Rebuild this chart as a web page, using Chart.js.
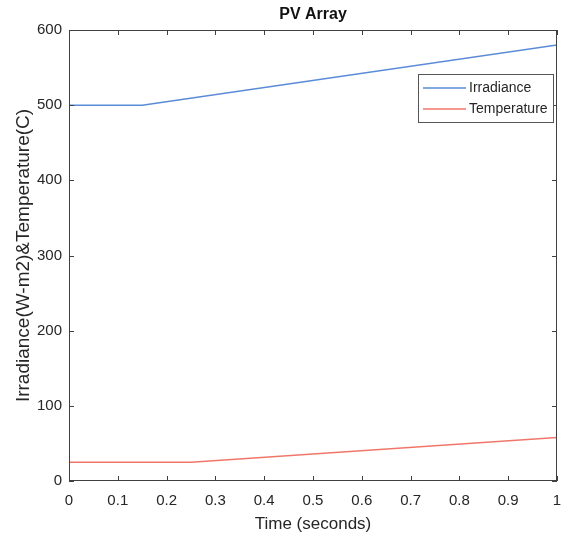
<!DOCTYPE html>
<html>
<head>
<meta charset="utf-8">
<script src="https://cdn.jsdelivr.net/npm/chart.js@4"></script>
<style>
  html, body { margin: 0; padding: 0; background: #fff; }
  #wrap { width: 563px; height: 538px; }
</style>
</head>
<body>
<div id="wrap"><canvas id="myChart" width="563" height="538"></canvas></div>
<script>
// data
const chartTitle = "PV Array";
const seriesNames = ["Irradiance", "Temperature"];
const irrTime = [0, 0.15, 1];
const irrValues = [500, 500, 580];
const tempTime = [0, 0.25, 1];
const tempValues = [25, 25, 58];
const xTicks = [0, 0.1, 0.2, 0.3, 0.4, 0.5, 0.6, 0.7, 0.8, 0.9, 1];
const yTicks = [0, 100, 200, 300, 400, 500, 600];

const colors = ["#5b8bd8", "#f0766a"];
const axisColor = "#404040";
const textColor = "#262626";
const font = "'Liberation Sans', Arial, sans-serif";

function toPoints(xs, ys) {
    return xs.map((x, i) => ({ x: x, y: ys[i] }));
}

// box around the plot, inward ticks on all four sides, legend and title
const boxPlugin = {
    id: "box",
    afterDraw(chart) {
        const ctx = chart.ctx;
        const a = chart.chartArea;
        const xs = chart.scales.x, ys = chart.scales.y;
        ctx.save();
        ctx.strokeStyle = axisColor;
        ctx.lineWidth = 1;
        ctx.strokeRect(a.left + 0.5, a.top + 0.5, a.right - a.left - 1, a.bottom - a.top - 1);
        const len = 5;
        ctx.beginPath();
        xTicks.forEach(v => {
            const px = Math.round(xs.getPixelForValue(v)) + 0.5;
            ctx.moveTo(px, a.bottom); ctx.lineTo(px, a.bottom - len);
            ctx.moveTo(px, a.top); ctx.lineTo(px, a.top + len);
        });
        yTicks.forEach(v => {
            const py = Math.round(ys.getPixelForValue(v)) + 0.5;
            ctx.moveTo(a.left, py); ctx.lineTo(a.left + len, py);
            ctx.moveTo(a.right, py); ctx.lineTo(a.right - len, py);
        });
        ctx.stroke();

        // title centred over the plot area
        ctx.fillStyle = "#111";
        ctx.font = "bold 16px " + font;
        ctx.textAlign = "center";
        ctx.textBaseline = "middle";
        ctx.fillText(chartTitle, (a.left + a.right) / 2, 15);

        // legend box inside the plot, upper right
        const lx = 418, ly = 74, lw = 135, lh = 48;
        ctx.fillStyle = "#fff";
        ctx.fillRect(lx, ly, lw, lh);
        ctx.strokeStyle = "#555";
        ctx.strokeRect(lx + 0.5, ly + 0.5, lw, lh);
        ctx.font = "14px " + font;
        ctx.textAlign = "left";
        chart.data.datasets.forEach((ds, i) => {
            const y = ly + 14 + i * 21;
            ctx.strokeStyle = ds.borderColor;
            ctx.lineWidth = 1.5;
            ctx.beginPath();
            ctx.moveTo(lx + 5, y); ctx.lineTo(lx + 48, y);
            ctx.stroke();
            ctx.fillStyle = textColor;
            ctx.fillText(ds.label, lx + 51, y);
        });
        ctx.restore();
    }
};

const config = {
    type: "line",
    data: {
        datasets: [
            {
                label: seriesNames[0],
                data: toPoints(irrTime, irrValues),
                borderColor: colors[0],
                borderWidth: 1.5,
                pointRadius: 0,
                tension: 0,
            },
            {
                label: seriesNames[1],
                data: toPoints(tempTime, tempValues),
                borderColor: colors[1],
                borderWidth: 1.5,
                pointRadius: 0,
                tension: 0,
            }
        ]
    },
    options: {
        responsive: false,
        animation: false,
        layout: { padding: { left: 0, right: 6, top: 30, bottom: 0 } },
        scales: {
            x: {
                type: "linear",
                min: 0,
                max: 1,
                afterBuildTicks: s => { s.ticks = xTicks.map(v => ({ value: v })); },
                afterFit: s => { s.height = 57; s.paddingRight = 0; s.paddingLeft = 0; },
                grid: { display: false, drawTicks: false },
                border: { display: false },
                ticks: {
                    padding: 11,
                    color: textColor,
                    font: { family: font, size: 15 },
                    callback: v => String(v),
                },
                title: {
                    display: true,
                    text: "Time (seconds)",
                    color: textColor,
                    font: { family: font, size: 17 },
                    padding: { top: 2, bottom: 3 },
                },
            },
            y: {
                min: 0,
                max: 600,
                afterBuildTicks: s => { s.ticks = yTicks.map(v => ({ value: v })); },
                afterFit: s => { s.width = 69; s.paddingTop = 0; s.paddingBottom = 0; },
                grid: { display: false, drawTicks: false },
                border: { display: false },
                ticks: {
                    padding: 7,
                    color: textColor,
                    font: { family: font, size: 15 },
                },
                title: {
                    display: true,
                    text: "Irradiance(W-m2)&Temperature(C)",
                    color: textColor,
                    font: { family: font, size: 19 },
                    padding: { top: 12, bottom: 4 },
                },
            },
        },
        plugins: {
            legend: { display: false },
            tooltip: { enabled: false },
            title: { display: false },
        },
    },
    plugins: [boxPlugin],
};

new Chart("myChart", config);
</script>
</body>
</html>
